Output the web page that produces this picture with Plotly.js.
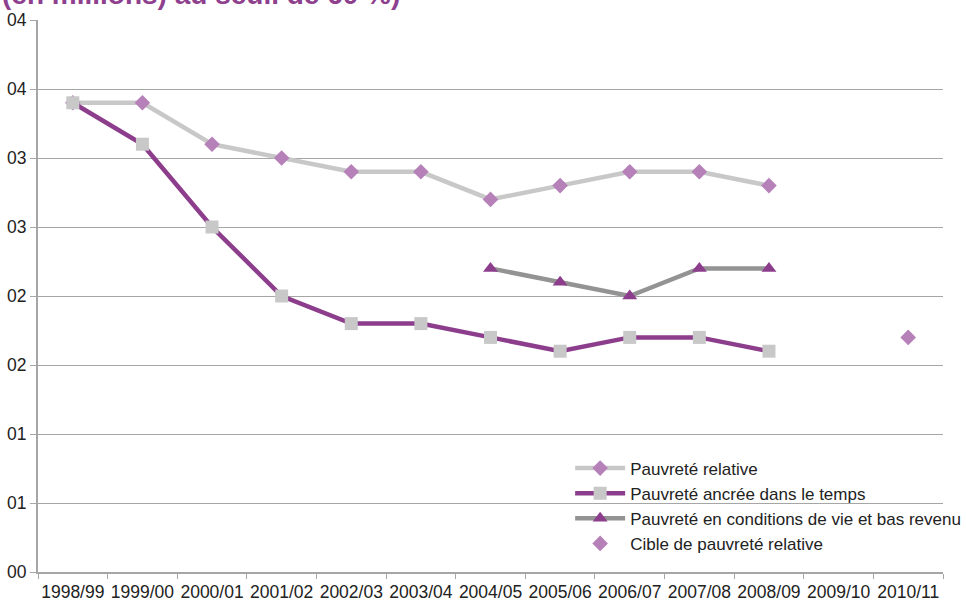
<!DOCTYPE html>
<html>
<head>
<meta charset="utf-8">
<script src="https://cdn.plot.ly/plotly-3.0.1.min.js"></script>
<style>html,body{margin:0;padding:0;background:#fff;}#chart{width:966px;height:601px;}</style>
</head>
<body>
<div id="chart"></div>
<script>
const categories = ["1998/99","1999/00","2000/01","2001/02","2002/03","2003/04","2004/05","2005/06","2006/07","2007/08","2008/09","2009/10","2010/11"];
const relative = [3.4, 3.4, 3.1, 3.0, 2.9, 2.9, 2.7, 2.8, 2.9, 2.9, 2.8, null, null];
const anchored = [3.4, 3.1, 2.5, 2.0, 1.8, 1.8, 1.7, 1.6, 1.7, 1.7, 1.6, null, null];
const deprivation = [null, null, null, null, null, null, 2.2, 2.1, 2.0, 2.2, 2.2, null, null];
const target = [null, null, null, null, null, null, null, null, null, null, null, null, 1.7];
const yTickVals = [0, 0.5, 1, 1.5, 2, 2.5, 3, 3.5, 4];
const yTickText = ["00","01","01","02","02","03","03","04","04"];
const seriesNames = ["Pauvreté relative","Pauvreté ancrée dans le temps","Pauvreté en conditions de vie et bas revenu","Cible de pauvreté relative"];
const titleText = "(en millions) au seuil de 60 %)";

const purple = "#8c3e8c";
const lightPurple = "#b680b9";
const lightGray = "#c8c8c8";
const midGray = "#939393";

const traces = [
  {x: categories, y: relative, name: seriesNames[0], type: "scatter", mode: "lines+markers",
   line: {color: lightGray, width: 4.5}, marker: {symbol: "diamond", size: 12, color: lightPurple}},
  {x: categories, y: anchored, name: seriesNames[1], type: "scatter", mode: "lines+markers",
   line: {color: purple, width: 4.5}, marker: {symbol: "square", size: 13, color: lightGray}},
  {x: categories, y: deprivation, name: seriesNames[2], type: "scatter", mode: "lines+markers",
   line: {color: midGray, width: 4.5}, marker: {symbol: "triangle-up", size: 13, color: purple}},
  {x: categories, y: target, name: seriesNames[3], type: "scatter", mode: "markers",
   marker: {symbol: "diamond", size: 12, color: lightPurple}}
];

const fam = "Liberation Sans, Arial, sans-serif";

const layout = {
  width: 966, height: 601,
  margin: {l: 38, r: 23, t: 20, b: 29, pad: 0, autoexpand: false},
  paper_bgcolor: "#fff", plot_bgcolor: "#fff",
  font: {family: fam, size: 17, color: "#222"},
  showlegend: true,
  legend: {x: 0.588, xanchor: "left", y: 0.22, yanchor: "top", bgcolor: "rgba(0,0,0,0)",
           font: {family: fam, size: 17, color: "#222"}, tracegroupgap: 0, itemwidth: 50},
  xaxis: {type: "category", categoryorder: "array", categoryarray: categories, range: [-0.5, 12.5],
          showgrid: false, showline: true, linecolor: "#a6a6a6", linewidth: 2,
          ticks: "outside", tickson: "boundaries", ticklen: 5, tickcolor: "#a6a6a6", tickwidth: 1,
          tickangle: 0, automargin: false, ticklabelstandoff: 3,
          tickfont: {family: fam, size: 17.5, color: "#222"}, fixedrange: true},
  yaxis: {range: [0, 4], tickvals: yTickVals, ticktext: yTickText, showgrid: true, gridcolor: "#a6a6a6", gridwidth: 1,
          zeroline: false, showline: true, linecolor: "#a6a6a6", linewidth: 2,
          ticks: "outside", ticklen: 6, tickcolor: "#a6a6a6", tickwidth: 1, automargin: false,
          tickfont: {family: fam, size: 17.5, color: "#222"}, fixedrange: true},
  annotations: [{text: "<b>" + titleText + "</b>", xref: "paper", yref: "paper", x: -0.042, xanchor: "left",
                 y: 1, yanchor: "bottom", yshift: 8, showarrow: false,
                 font: {family: fam, size: 28, color: "#8e3f8e"}}]
};

Plotly.newPlot("chart", traces, layout, {displayModeBar: false, staticPlot: true});
</script>
</body>
</html>
